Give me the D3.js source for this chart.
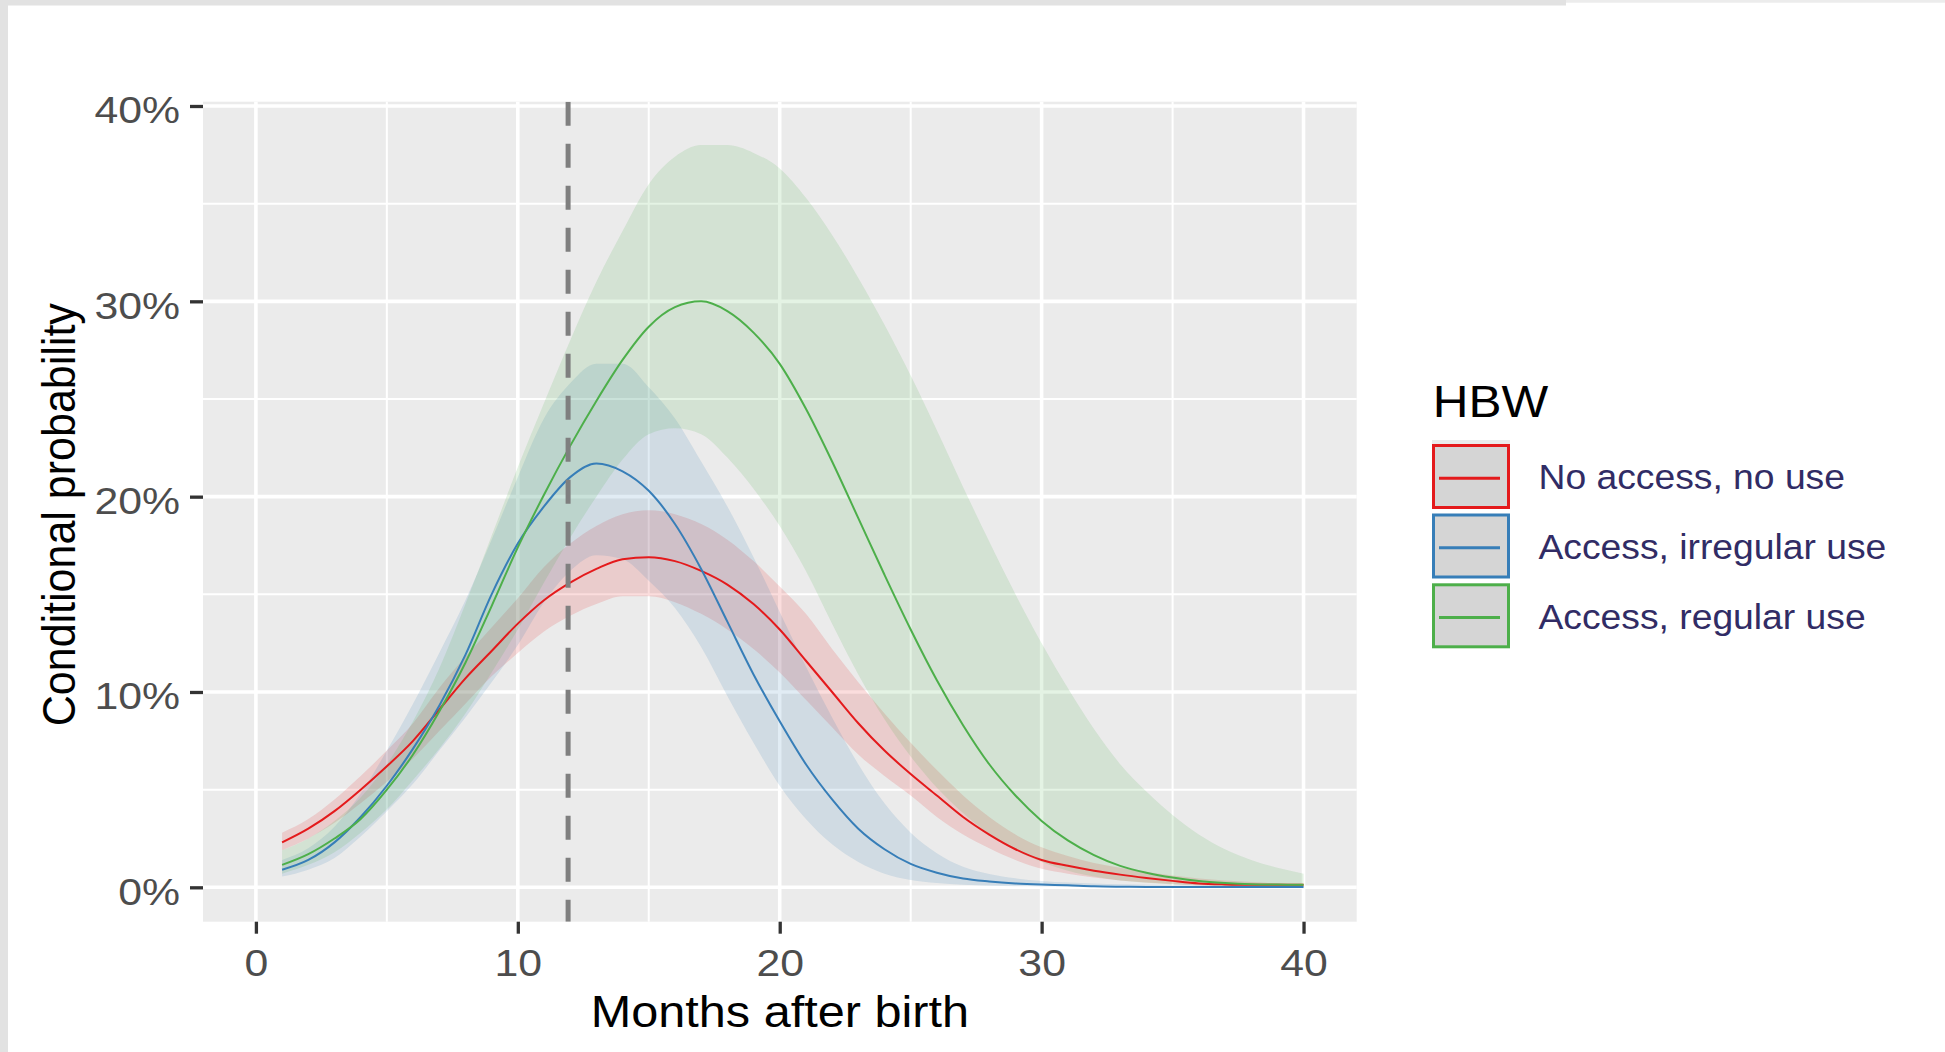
<!DOCTYPE html>
<html>
<head>
<meta charset="utf-8">
<script src="https://cdn.jsdelivr.net/npm/d3@7"></script>
<style>
  html, body { margin: 0; padding: 0; background: #ffffff; }
  svg { display: block; }
  text { font-family: "Liberation Sans", Arial, sans-serif; }
</style>
</head>
<body>
<svg id="chart" width="1945" height="1052"></svg>
<script>
// ---------------- data ----------------
const months = [1,2,3,4,5,6,7,8,9,10,11,12,13,14,15,16,17,18,19,20,21,22,23,24,25,26,27,28,29,30,31,32,33,34,35,36,37,38,39,40];

const seriesNames = ["No access, no use", "Access, irregular use", "Access, regular use"];
const seriesColors = ["#e41a1c", "#377eb8", "#4daf4a"];

const redMid = [2.3,3.0,3.9,5.0,6.2,7.5,9.1,10.7,12.1,13.5,14.7,15.6,16.3,16.8,16.9,16.7,16.2,15.5,14.5,13.2,11.6,10.0,8.4,7.0,5.8,4.7,3.6,2.7,1.95,1.4,1.1,0.85,0.65,0.48,0.33,0.2,0.15,0.13,0.13,0.13];
const redLo  = [1.9,2.5,3.3,4.3,5.4,6.6,8.0,9.4,10.8,12.0,13.1,13.9,14.5,14.9,14.9,14.6,14.0,13.2,12.2,11.0,9.6,8.2,6.8,5.7,4.7,3.6,2.7,2.0,1.4,0.95,0.7,0.5,0.35,0.25,0.17,0.11,0.08,0.06,0.05,0.04];
const redHi  = [2.8,3.5,4.5,5.7,7.0,8.4,10.2,11.8,13.3,14.8,16.4,17.6,18.5,19.1,19.3,19.1,18.6,17.8,16.7,15.4,14.0,12.2,10.5,8.9,7.4,6.0,4.7,3.6,2.7,2.05,1.6,1.25,1.0,0.78,0.6,0.45,0.35,0.27,0.2,0.15];

const blueMid = [0.9,1.4,2.3,3.6,5.2,7.1,9.3,11.9,15.0,17.6,19.5,21.0,21.7,21.3,20.3,18.6,16.3,13.6,10.9,8.5,6.3,4.5,3.0,1.95,1.2,0.75,0.45,0.3,0.2,0.14,0.1,0.05,0.03,0.02,0.02,0.02,0.02,0.02,0.02,0.02];
const blueLo  = [0.55,0.9,1.5,2.6,3.9,5.3,7.0,8.7,10.5,12.4,14.6,16.2,17.0,16.8,15.7,14.3,12.3,9.8,7.4,5.2,3.5,2.2,1.3,0.7,0.38,0.22,0.13,0.08,0.05,0.04,0.03,0.02,0.02,0.02,0.01,0.01,0.01,0.01,0.01,0.01];
const blueHi  = [1.4,2.0,3.1,4.8,7.0,9.4,12.0,14.7,17.8,21.0,24.0,25.8,26.8,26.8,25.6,24.0,21.8,19.5,16.9,14.1,11.3,8.7,6.3,4.3,2.8,1.75,1.05,0.68,0.46,0.33,0.25,0.2,0.16,0.13,0.11,0.1,0.09,0.08,0.07,0.06];

const greenMid = [1.15,1.7,2.5,3.5,5.0,6.8,9.0,11.5,14.4,17.4,20.1,22.6,24.9,27.0,28.7,29.7,30.0,29.5,28.4,26.8,24.5,21.8,18.9,16.0,13.2,10.6,8.3,6.3,4.7,3.4,2.4,1.65,1.1,0.75,0.5,0.32,0.22,0.16,0.14,0.13];
const greenLo  = [0.7,1.15,1.8,2.8,4.0,5.5,7.1,8.9,11.0,13.2,15.6,17.9,20.0,21.9,23.2,23.5,23.2,22.0,20.4,18.5,16.2,13.5,10.9,8.6,6.7,5.1,3.8,2.7,1.9,1.3,0.85,0.55,0.35,0.23,0.15,0.1,0.07,0.05,0.04,0.03];
const greenHi  = [1.9,2.5,3.4,4.6,6.3,8.5,11.2,14.5,18.0,21.5,24.8,28.0,31.0,33.6,36.0,37.4,38.0,38.0,37.6,36.8,35.3,33.4,31.2,28.8,26.2,23.4,20.5,17.7,15.0,12.5,10.2,8.1,6.3,4.9,3.7,2.7,1.95,1.4,1.0,0.7];

const xTicks = [0, 10, 20, 30, 40];
const xMinor = [5, 15, 25, 35];
const yTicks = [0, 10, 20, 30, 40];
const yMinor = [5, 15, 25, 35];
const vlineMonth = [11.92];
const xTitle = "Months after birth";
const yTitle = "Conditional probability";
const legendTitle = "HBW";

// ---------------- layout ----------------
const svg = d3.select("#chart");
const P = { left: 203, right: 1356.7, top: 101.7, bottom: 921.7 };
const FONT = '"Liberation Sans", Arial, sans-serif';

svg.append("rect").attr("x", 0).attr("y", 0).attr("width", 1945).attr("height", 1052).attr("fill", "#ffffff");
// thin frame strips of the screenshot
svg.append("rect").attr("x", 0).attr("y", 0).attr("width", 8).attr("height", 1052).attr("fill", "#e2e2e2");
svg.append("rect").attr("x", 0).attr("y", 0).attr("width", 1566).attr("height", 5.5).attr("fill", "#e2e2e2");
svg.append("rect").attr("x", 1566).attr("y", 0).attr("width", 379).attr("height", 2.7).attr("fill", "#ececec");

const x = d3.scaleLinear().domain([-2.02, 42.03]).range([P.left, P.right]);
const y = d3.scaleLinear().domain([-1.76, 40.22]).range([P.bottom, P.top]);

// panel
svg.append("rect").attr("x", P.left).attr("y", P.top)
  .attr("width", P.right - P.left).attr("height", P.bottom - P.top).attr("fill", "#ebebeb");

const grid = svg.append("g");
grid.selectAll(".xmin").data(xMinor).join("line")
  .attr("x1", d => x(d)).attr("x2", d => x(d)).attr("y1", P.top).attr("y2", P.bottom)
  .attr("stroke", "#ffffff").attr("stroke-width", 2);
grid.selectAll(".ymin").data(yMinor).join("line")
  .attr("y1", d => y(d)).attr("y2", d => y(d)).attr("x1", P.left).attr("x2", P.right)
  .attr("stroke", "#ffffff").attr("stroke-width", 2);
grid.selectAll(".xmaj").data(xTicks).join("line")
  .attr("x1", d => x(d)).attr("x2", d => x(d)).attr("y1", P.top).attr("y2", P.bottom)
  .attr("stroke", "#ffffff").attr("stroke-width", 3.6);
grid.selectAll(".ymaj").data(yTicks).join("line")
  .attr("y1", d => y(d)).attr("y2", d => y(d)).attr("x1", P.left).attr("x2", P.right)
  .attr("stroke", "#ffffff").attr("stroke-width", 3.6);

// clip
svg.append("clipPath").attr("id", "clip").append("rect")
  .attr("x", P.left).attr("y", P.top).attr("width", P.right - P.left).attr("height", P.bottom - P.top);

const series = [
  { name: seriesNames[0], color: seriesColors[0], mid: redMid, lo: redLo, hi: redHi },
  { name: seriesNames[1], color: seriesColors[1], mid: blueMid, lo: blueLo, hi: blueHi },
  { name: seriesNames[2], color: seriesColors[2], mid: greenMid, lo: greenLo, hi: greenHi }
].map(s => ({ ...s, pts: months.map((m, i) => ({ m, mid: s.mid[i], lo: s.lo[i], hi: s.hi[i] })) }));

const plot = svg.append("g").attr("clip-path", "url(#clip)");
const area = d3.area().x(d => x(d.m)).y0(d => y(d.lo)).y1(d => y(d.hi)).curve(d3.curveMonotoneX);
const line = d3.line().x(d => x(d.m)).y(d => y(d.mid)).curve(d3.curveMonotoneX);

plot.selectAll(".ribbon").data(series).join("path")
  .attr("d", d => area(d.pts)).attr("fill", d => d.color).attr("fill-opacity", 0.15).attr("stroke", "none");
plot.selectAll(".curve").data(series).join("path")
  .attr("d", d => line(d.pts)).attr("fill", "none").attr("stroke", d => d.color).attr("stroke-width", 2);

plot.selectAll(".vline").data(vlineMonth).join("line")
  .attr("x1", d => x(d)).attr("x2", d => x(d)).attr("y1", P.top).attr("y2", P.bottom)
  .attr("stroke", "#7f7f7f").attr("stroke-width", 5).attr("stroke-dasharray", "24,18");

// axes
const yAxis = svg.append("g").attr("transform", `translate(${P.left},0)`)
  .call(d3.axisLeft(y).tickValues(yTicks).tickFormat(d => d + "%").tickSize(13));
yAxis.select(".domain").remove();
yAxis.selectAll(".tick line").attr("stroke", "#333333").attr("stroke-width", 3.3);
yAxis.selectAll(".tick text")
  .attr("x", null).attr("dy", null)
  .attr("transform", "translate(-23,16.7) scale(1.14,1)")
  .attr("text-anchor", "end")
  .style("font-family", FONT).style("font-size", "37.5px").attr("fill", "#4d4d4d");

const xAxis = svg.append("g").attr("transform", `translate(0,${P.bottom})`)
  .call(d3.axisBottom(x).tickValues(xTicks).tickFormat(d3.format("d")).tickSize(12));
xAxis.select(".domain").remove();
xAxis.selectAll(".tick line").attr("stroke", "#333333").attr("stroke-width", 3.3);
xAxis.selectAll(".tick text")
  .attr("y", null).attr("dy", null)
  .attr("transform", "translate(0,54) scale(1.14,1)")
  .attr("text-anchor", "middle")
  .style("font-family", FONT).style("font-size", "37.5px").attr("fill", "#4d4d4d");

// axis titles
svg.append("text")
  .attr("transform", `translate(${(P.left + P.right) / 2},1026.5) scale(1.08,1)`)
  .attr("text-anchor", "middle").style("font-family", FONT).style("font-size", "45px")
  .attr("fill", "#000000").text(xTitle);
svg.append("text")
  .attr("transform", `translate(74.5,${(P.top + P.bottom) / 2 + 3}) scale(1.08,1) rotate(-90)`)
  .attr("text-anchor", "middle").style("font-family", FONT).style("font-size", "43px")
  .attr("fill", "#000000").text(yTitle);

// legend
const lg = svg.append("g");
lg.append("text")
  .attr("transform", "translate(1432.7,416.7) scale(1.1,1)")
  .style("font-family", FONT).style("font-size", "45px").attr("fill", "#000000").text(legendTitle);
lg.append("rect").attr("x", 1432).attr("y", 440).attr("width", 78).attr("height", 6).attr("fill", "#ebebeb");
const keyTop = [444, 513.5, 583.3];
const keys = lg.selectAll(".key").data(series).join("g")
  .attr("transform", (d, i) => `translate(0,${keyTop[i]})`);
keys.append("rect").attr("x", 1433.5).attr("y", 1.5).attr("width", 75).attr("height", 62)
  .attr("fill", "#d5d5d5").attr("stroke", d => d.color).attr("stroke-width", 3);
keys.append("line").attr("x1", 1439).attr("x2", 1500).attr("y1", 34.3).attr("y2", 34.3)
  .attr("stroke", d => d.color).attr("stroke-width", 3);
keys.append("text")
  .attr("transform", "translate(1538.5,45.3) scale(1.05,1)")
  .style("font-family", FONT).style("font-size", "35.5px").attr("fill", "#312c65")
  .text(d => d.name);
</script>
</body>
</html>
